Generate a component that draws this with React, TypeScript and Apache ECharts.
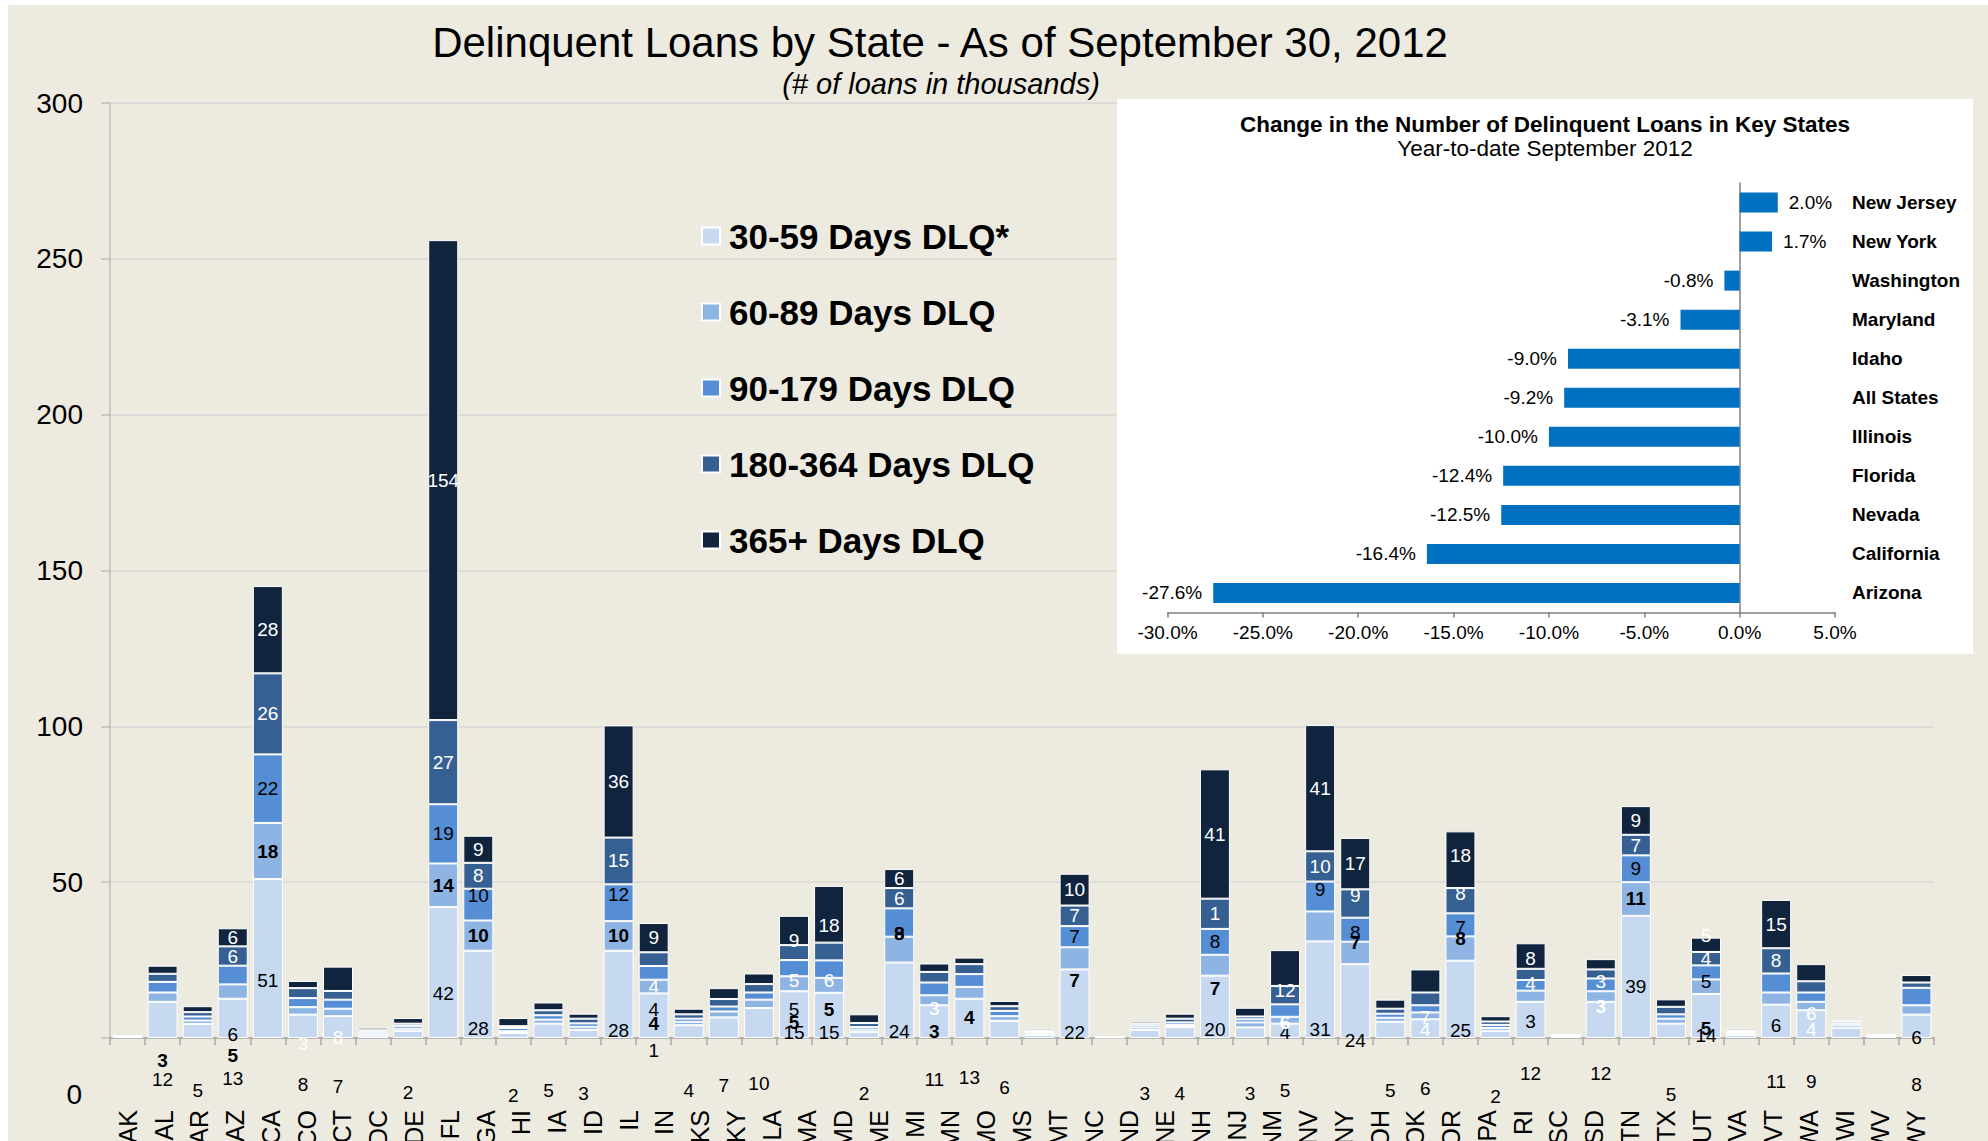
import React, { useEffect, useRef } from 'react';
import * as echarts from 'echarts';

const FONT = '"Liberation Sans", Arial, Helvetica, sans-serif';

// State labels printed under the axis (51), bars are drawn in 52 slots as in the original chart
const states = ['AK','AL','AR','AZ','CA','CO','CT','DC','DE','FL','GA','HI','IA','ID','IL','IN','KS','KY','LA','MA','MD','ME','MI','MN','MO','MS','MT','NC','ND','NE','NH','NJ','NM','NV','NY','OH','OK','OR','PA','RI','SC','SD','TN','TX','UT','VA','VT','WA','WI','WV','WY'];
const barSlots = [...states, ''];

const bandNames = ['30-59 Days DLQ*', '60-89 Days DLQ', '90-179 Days DLQ', '180-364 Days DLQ', '365+ Days DLQ'];
const bandColors = ['#C6D9F1', '#8DB4E2', '#558ED5', '#376092', '#10243E'];

// loans in thousands, one value per bar slot
const dlq30 = [0.3,11.6,4.5,12.6,51,7.5,7.0,0.8,2.3,42,28,1.6,4.6,2.6,28,14.3,4.1,6.6,9.6,15,14.5,1.9,24.2,10.5,12.6,5.5,1.0,22,0.2,2.6,3.5,20,3.4,4.6,31,23.7,5.2,6.0,24.8,2.3,11.6,0.5,11.6,39.2,4.6,14.1,1.0,10.7,8.9,3.3,0.4,7.5];
const dlq60 = [0.1,3.0,1.1,4.6,18,2.4,2.4,0.6,0.7,14,9.7,0.6,1.3,1.0,9.5,4.4,1.1,1.9,2.7,4.8,4.8,0.8,8.3,3.2,3.8,1.5,0.4,7.1,0.1,0.8,0.7,6.7,1.6,2.2,9.6,7.2,1.3,2.2,7.8,0.9,3.6,0.15,3.4,10.8,1.6,4.7,0.4,3.9,2.7,0.8,0.15,3.0];
const dlq90 = [0.1,3.4,1.3,6.0,22,2.9,2.9,0.6,0.9,19,10.2,1.0,1.4,1.1,11.8,4.4,1.0,1.6,2.3,5.2,5.6,0.8,9.1,4.1,4.1,1.7,0.5,6.8,0.1,0.7,0.8,8.3,1.0,4.0,9.6,7.7,1.3,2.3,7.4,1.0,3.4,0.15,4.1,8.6,1.4,4.5,0.5,6.1,3.0,0.6,0.15,5.6];
const dlq180 = [0.1,2.6,1.4,6.2,26,3.2,2.8,0.5,0.7,27,8.3,0.6,1.6,1.5,15,4.4,1.4,2.4,2.7,4.8,5.7,1.3,6.5,3.4,3.2,1.5,0.5,6.6,0.05,0.6,1.2,9.7,0.9,5.9,9.7,9.1,1.6,4.1,8.1,1.1,3.6,0.15,2.9,6.6,2.4,4.3,0.5,8.1,3.6,0.6,0.15,1.7];
const dlq365 = [0.2,2.6,1.9,5.8,28,2.3,7.8,0.8,1.8,154,8.7,2.6,2.5,1.6,36,9.4,1.8,3.5,3.4,9.4,18.2,2.8,6.1,2.7,2.1,1.7,0.6,10.2,0.05,0.7,1.6,41.5,2.8,11.5,40.5,16.5,2.9,7.4,18.2,1.7,8.2,0.25,3.3,9.2,2.4,4.6,0.6,15.5,5.5,0.4,0.25,2.4];

// data-label texts as printed in the picture (slot index -> text)
const lbl30: Record<number, string> = {1:'12',2:'5',3:'13',4:'51',5:'8',6:'7',8:'2',9:'42',10:'28',11:'2',12:'5',13:'3',14:'28',15:'1',16:'4',17:'7',18:'10',19:'15',20:'15',21:'2',22:'24',23:'11',24:'13',25:'6',27:'22',29:'3',30:'4',31:'20',32:'3',33:'4',34:'31',35:'24',36:'5',37:'6',38:'25',39:'2',40:'12',42:'12',43:'39',44:'5',45:'14',47:'11',48:'9',51:'8'};
const lbl60: Record<number, string> = {1:'3',3:'5',4:'18',9:'14',10:'10',14:'10',15:'4',19:'5',20:'5',22:'8',23:'3',24:'4',27:'7',31:'7',33:'6',35:'7',38:'8',42:'3',43:'11',45:'5'};
const lbl90: Record<number, string> = {3:'6',4:'22',9:'19',10:'10',14:'12',15:'4',19:'5',20:'6',22:'9',27:'7',31:'8',33:'5',34:'9',35:'8',38:'7',40:'3',42:'3',43:'9',45:'5',47:'6',51:'6'};
const lbl180: Record<number, string> = {3:'6',4:'26',5:'3',9:'27',10:'8',14:'15',15:'4',19:'5',22:'6',23:'3',27:'7',31:'1',33:'12',34:'10',35:'9',37:'4',38:'8',40:'4',43:'7',45:'4',47:'8',48:'4'};
const lbl365: Record<number, string> = {3:'6',4:'28',6:'8',9:'154',10:'9',14:'36',15:'9',19:'9',20:'18',22:'6',27:'10',31:'41',34:'41',35:'17',37:'7',38:'18',40:'8',43:'9',45:'5',47:'15',48:'6'};

// labels that sit away from their segment centre: [slot, band, value-axis anchor]
const labelAnchors: [number, number, number][] = [
  [1,0,-13.3],[1,1,-7.2],[2,0,-16.8],[3,0,-13],[3,1,-5.6],[3,2,1.2],[4,0,18.5],
  [5,0,-14.9],[5,3,-1.7],[6,0,-15.5],[6,4,0.2],[8,0,-17.4],[9,0,14.4],[10,0,3.1],[10,2,45.8],
  [11,0,-18.4],[12,0,-16.8],[13,0,-17.7],[14,0,2.5],[14,2,46.1],
  [15,0,-4],[15,1,4.7],[15,2,9.2],[15,3,16.4],[16,0,-16.8],[17,0,-15.2],[18,0,-14.5],
  [19,0,1.9],[19,1,5.1],[19,2,9.1],[19,3,18.5],[19,4,31.4],
  [20,0,1.9],[20,1,9.2],[20,2,18.5],[20,4,36],[21,0,-17.7],
  [22,0,2.2],[22,1,33.6],[22,2,33.6],[23,0,-13.3],[23,1,2.2],[23,3,9.5],
  [24,0,-12.6],[24,1,6.7],[25,0,-15.8],[27,0,1.9],[27,1,18.3],[29,0,-17.7],[30,0,-17.7],
  [31,0,2.7],[31,1,16],[32,0,-17.7],[33,0,1.9],[33,1,5.1],[33,2,-16.8],[33,3,15.3],
  [34,0,2.7],[34,2,47.7],[35,0,-0.7],[35,1,30.5],[35,2,34],[35,3,45.8],[36,0,-16.8],
  [37,0,-16.1],[37,3,2.8],[37,4,6.7],[38,0,2.5],[38,1,32],[38,2,35.6],[38,3,46.4],[38,4,58.7],
  [39,0,-18.9],[40,0,-11.3],[40,2,5.4],[40,3,17.6],[40,4,25.6],[42,0,-11.3],[42,1,10.2],[42,2,18],
  [43,0,16.4],[44,0,-18.1],[45,0,0.9],[45,1,3.1],[45,2,18],[45,4,33],[47,0,-13.8],[47,2,4.1],
  [48,0,-13.8],[48,3,2.8],[48,4,7.9],[51,0,-14.9],[51,2,0.2]
];
const whiteLabels: [number, number][] = [[20,2],[33,1],[42,1],[42,2]];

const insetStates = ['New Jersey','New York','Washington','Maryland','Idaho','All States','Illinois','Florida','Nevada','California','Arizona'];
const insetChange = [2.0, 1.7, -0.8, -3.1, -9.0, -9.2, -10.0, -12.4, -12.5, -16.4, -27.6];

export default function App() {
  const ref = useRef<HTMLDivElement>(null);
  useEffect(() => {
    const chart = echarts.init(ref.current!, null, { renderer: 'svg' });
    const values = [dlq30, dlq60, dlq90, dlq180, dlq365];
    const labels = [lbl30, lbl60, lbl90, lbl180, lbl365];
    const labelColor = ['#000', '#000', '#000', '#fff', '#fff'];
    const labelWeight = ['normal', 'bold', 'normal', 'normal', 'normal'];

    const makeSeries = (offsetFor: (i: number, s: number) => number) => values.map((vals, s) => ({
      type: 'bar', name: bandNames[s], stack: 'dlq', xAxisIndex: 0, yAxisIndex: 0,
      barWidth: 30, clip: false, z: 2, silent: true,
      itemStyle: { color: bandColors[s], borderColor: '#ffffff', borderWidth: 1 },
      label: { show: false },
      data: vals.map((v, i) => {
        const text = labels[s][i] || '';
        if (!text) return v;
        const white = whiteLabels.some(([b, ss]) => b === i && ss === s);
        return {
          value: v,
          label: {
            show: true, position: 'inside', formatter: text, fontSize: 19, fontFamily: FONT,
            color: white ? '#fff' : labelColor[s], fontWeight: labelWeight[s],
            offset: [0, offsetFor(i, s)],
          },
        };
      }),
    }));

    const insetSeries = {
      type: 'bar', xAxisIndex: 2, yAxisIndex: 1, z: 5, barWidth: 20, silent: true,
      itemStyle: { color: '#0070C0' },
      label: {
        show: true, fontSize: 19, color: '#000', distance: 11, fontFamily: FONT,
        formatter: (p: any) => Number(p.value).toFixed(1) + '%',
      },
      data: insetChange.map(v => ({ value: v, label: { position: v >= 0 ? 'right' : 'left' } })),
    };

    const option: any = {
      animation: false,
      backgroundColor: '#EDEAE0',
      textStyle: { fontFamily: FONT },
      grid: [
        { left: 110, right: 54, top: 103, bottom: 103, outerBoundsMode: 'none', containLabel: false },
        { left: 1167.5, right: 153, top: 183, bottom: 528.5, outerBoundsMode: 'none', containLabel: false },
      ],
      legend: {
        data: bandNames, orient: 'vertical', left: 696, top: 213, selectedMode: false,
        itemWidth: 18, itemHeight: 17, itemGap: 40, icon: 'rect',
        textStyle: { fontSize: 35, fontWeight: 'bold', color: '#000', lineHeight: 36, fontFamily: FONT, padding: [0, 0, 0, 4] },
      },
      xAxis: [
        {
          type: 'category', gridIndex: 0, data: barSlots, position: 'bottom',
          axisLine: { lineStyle: { color: '#A6A6A6', width: 1.5 } },
          axisTick: { show: true, interval: 0, length: 7, lineStyle: { color: '#A6A6A6', width: 1.5 } },
          axisLabel: { show: false }, splitLine: { show: false },
        },
        {
          type: 'category', gridIndex: 0, data: states, position: 'bottom',
          axisLine: { show: false }, axisTick: { show: false }, splitLine: { show: false },
          axisLabel: { interval: 0, rotate: 90, margin: 72, fontSize: 25, color: '#000', fontFamily: FONT },
        },
        {
          type: 'value', gridIndex: 1, min: -30, max: 5, interval: 5, z: 5,
          axisLine: { show: true, lineStyle: { color: '#808080', width: 1.5 } },
          axisTick: { show: true, length: 5, lineStyle: { color: '#808080', width: 1.5 } },
          splitLine: { show: false },
          axisLabel: { fontSize: 19, color: '#000', margin: 10, fontFamily: FONT, formatter: (v: number) => v.toFixed(1) + '%' },
        },
      ],
      yAxis: [
        {
          type: 'value', gridIndex: 0, min: 0, max: 300, interval: 50,
          axisLine: { show: true, lineStyle: { color: '#BFBFBF', width: 1.5 } },
          axisTick: { show: true, length: 9, lineStyle: { color: '#BFBFBF', width: 1.5 } },
          splitLine: { show: true, lineStyle: { color: '#D9D9D9', width: 1.5 } },
          axisLabel: { fontSize: 28, color: '#000', margin: 27, fontFamily: FONT, formatter: (v: number) => (v === 0 ? '' : String(v)) },
        },
        {
          type: 'category', gridIndex: 1, data: insetStates, inverse: true, z: 5,
          axisLine: { show: true, onZero: true, lineStyle: { color: '#808080', width: 1.5 } },
          axisTick: { show: false }, axisLabel: { show: false }, splitLine: { show: false },
        },
        {
          type: 'category', gridIndex: 1, data: insetStates, inverse: true, position: 'right', z: 5,
          axisLine: { show: false, onZero: false }, axisTick: { show: false }, splitLine: { show: false },
          axisLabel: { fontSize: 19, fontWeight: 'bold', color: '#000', margin: 17, align: 'left', fontFamily: FONT },
        },
      ],
      graphic: [
        { type: 'rect', z: 1, shape: { x: 0, y: 0, width: 1988, height: 5 }, style: { fill: '#ffffff' } },
        { type: 'rect', z: 1, shape: { x: 0, y: 0, width: 8, height: 1141 }, style: { fill: '#ffffff' } },
        { type: 'rect', z: 1, shape: { x: 1117, y: 99, width: 856, height: 555 }, style: { fill: '#ffffff' } },
        { type: 'text', z: 10, x: 940, y: 42, style: { text: 'Delinquent Loans by State - As of September 30, 2012', fill: '#000', fontSize: 42, fontFamily: FONT, textAlign: 'center', textVerticalAlign: 'middle', align: 'center', verticalAlign: 'middle' } },
        { type: 'text', z: 10, x: 941, y: 84, style: { text: '(# of loans in thousands)', fill: '#000', fontSize: 29, fontStyle: 'italic', fontFamily: FONT, textAlign: 'center', textVerticalAlign: 'middle', align: 'center', verticalAlign: 'middle' } },
        { type: 'text', z: 10, x: 1545, y: 124, style: { text: 'Change in the Number of Delinquent Loans in Key States', fill: '#000', fontSize: 22.5, fontWeight: 'bold', fontFamily: FONT, textAlign: 'center', textVerticalAlign: 'middle', align: 'center', verticalAlign: 'middle' } },
        { type: 'text', z: 10, x: 1545, y: 148, style: { text: 'Year-to-date September 2012', fill: '#000', fontSize: 22.5, fontFamily: FONT, textAlign: 'center', textVerticalAlign: 'middle', align: 'center', verticalAlign: 'middle' } },
        { type: 'text', z: 10, x: 82, y: 1094, style: { text: '0', fill: '#000', fontSize: 28, fontFamily: FONT, textAlign: 'right', textVerticalAlign: 'middle', align: 'right', verticalAlign: 'middle' } },
      ],
      series: [...makeSeries(() => 0), insetSeries],
    };
    chart.setOption(option);

    const yPix = (v: number) => chart.convertToPixel({ yAxisIndex: 0 } as any, v) as unknown as number;
    const offsetFor = (i: number, s: number) => {
      const a = labelAnchors.find(([b, ss]) => b === i && ss === s);
      if (!a) return 0;
      let base = 0;
      for (let k = 0; k < s; k++) base += values[k][i];
      const center = base + values[s][i] / 2;
      return yPix(a[2]) - yPix(center);
    };
    chart.setOption({ series: [...makeSeries(offsetFor), insetSeries] });

    return () => chart.dispose();
  }, []);
  return <div ref={ref} style={{ position: 'absolute', left: 0, top: 0, width: 1988, height: 1141 }} />;
}
